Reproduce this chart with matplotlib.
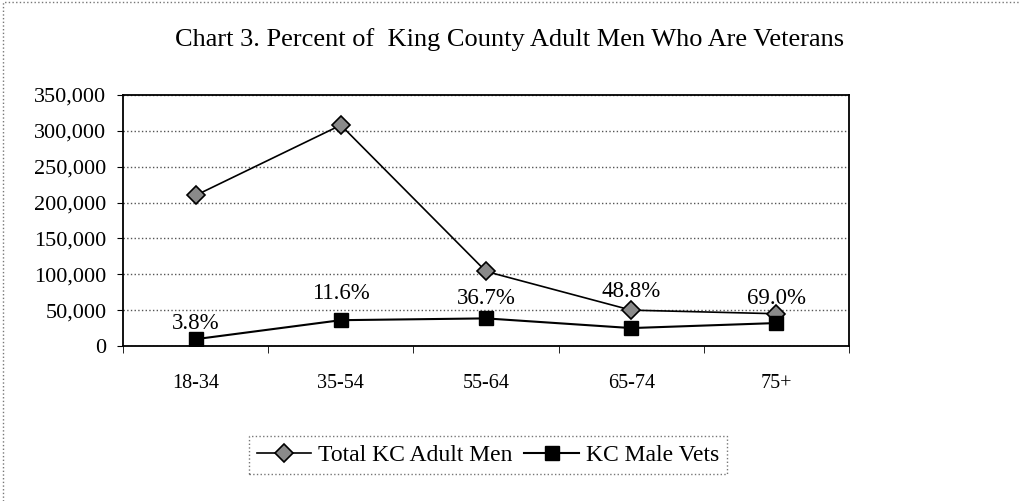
import matplotlib.pyplot as plt
from matplotlib.lines import Line2D
from matplotlib.ticker import FuncFormatter, FixedLocator

# data
ages = ["18-34", "35-54", "55-64", "65-74", "75+"]
total_men = [210000, 308000, 104000, 50000, 45000]
male_vets = [9500, 36000, 38500, 25000, 32000]
pct_labels = ["3.8%", "11.6%", "36.7%", "48.8%", "69.0%"]
# label offsets (points above the vets marker), as placed in the original
label_offsets = [11.5, 19.5, 14.5, 26, 18]

plt.rcParams['font.family'] = ['Liberation Serif', 'DejaVu Serif']

fig = plt.figure(figsize=(10.2, 5.01), dpi=100)
ax = fig.add_axes([123/1020, 1 - 346/501, (849-123)/1020, (346-95)/501])

x = list(range(len(ages)))
ax.plot(x, total_men, color="black", lw=1.2, marker="D", ms=9.5,
        mfc="#8a8a8a", mec="black", mew=1.2, label="Total KC Adult Men")
ax.plot(x, male_vets, color="black", lw=1.5, marker="s", ms=9.5,
        mfc="black", mec="black", label="KC Male Vets")

for xi, v, txt, off in zip(x, male_vets, pct_labels, label_offsets):
    ax.annotate(txt, (xi, v), xytext=(0, off), textcoords="offset points",
                ha="center", va="center", fontsize=16.5)

ax.set_xlim(-0.5, len(ages) - 0.5)
ax.set_ylim(0, 350000)
ax.set_yticks(range(0, 350001, 50000))
ax.yaxis.set_major_formatter(FuncFormatter(lambda v, p: f"{int(v):,}"))
ax.set_xticks(x)
ax.set_xticklabels(ages)
ax.xaxis.set_minor_locator(FixedLocator([i - 0.5 for i in range(len(ages) + 1)]))
ax.tick_params(axis="x", which="major", length=0, pad=20, labelsize=14.5)
ax.tick_params(axis="x", which="minor", length=5, direction="out")
ax.tick_params(axis="y", length=4, direction="out", labelsize=16, pad=8)
ax.grid(axis="y", linestyle=":", color="#555555", lw=1)
for s in ax.spines.values():
    s.set_linewidth(1.3)

fig.text(0.5, 1 - 40/501, "Chart 3. Percent of  King County Adult Men Who Are Veterans",
         ha="center", va="center", fontsize=19)

leg = fig.legend(loc="center", bbox_to_anchor=(488/1020, 1 - 455/501), ncol=2,
                 fontsize=17, frameon=True, fancybox=False, handlelength=2.3,
                 columnspacing=0.5, handletextpad=0.3, borderpad=0.35)
leg.get_frame().set_edgecolor("#555555")
leg.get_frame().set_linestyle(":")
leg.get_frame().set_linewidth(1)

# outer chart border (only top and left show in the scan)
fig.lines.append(Line2D([3/1020, 3/1020, 1], [0, 1 - 2/501, 1 - 2/501], transform=fig.transFigure,
                        color="#777777", lw=1, linestyle=":"))

fig.savefig("out.png", dpi=100)
